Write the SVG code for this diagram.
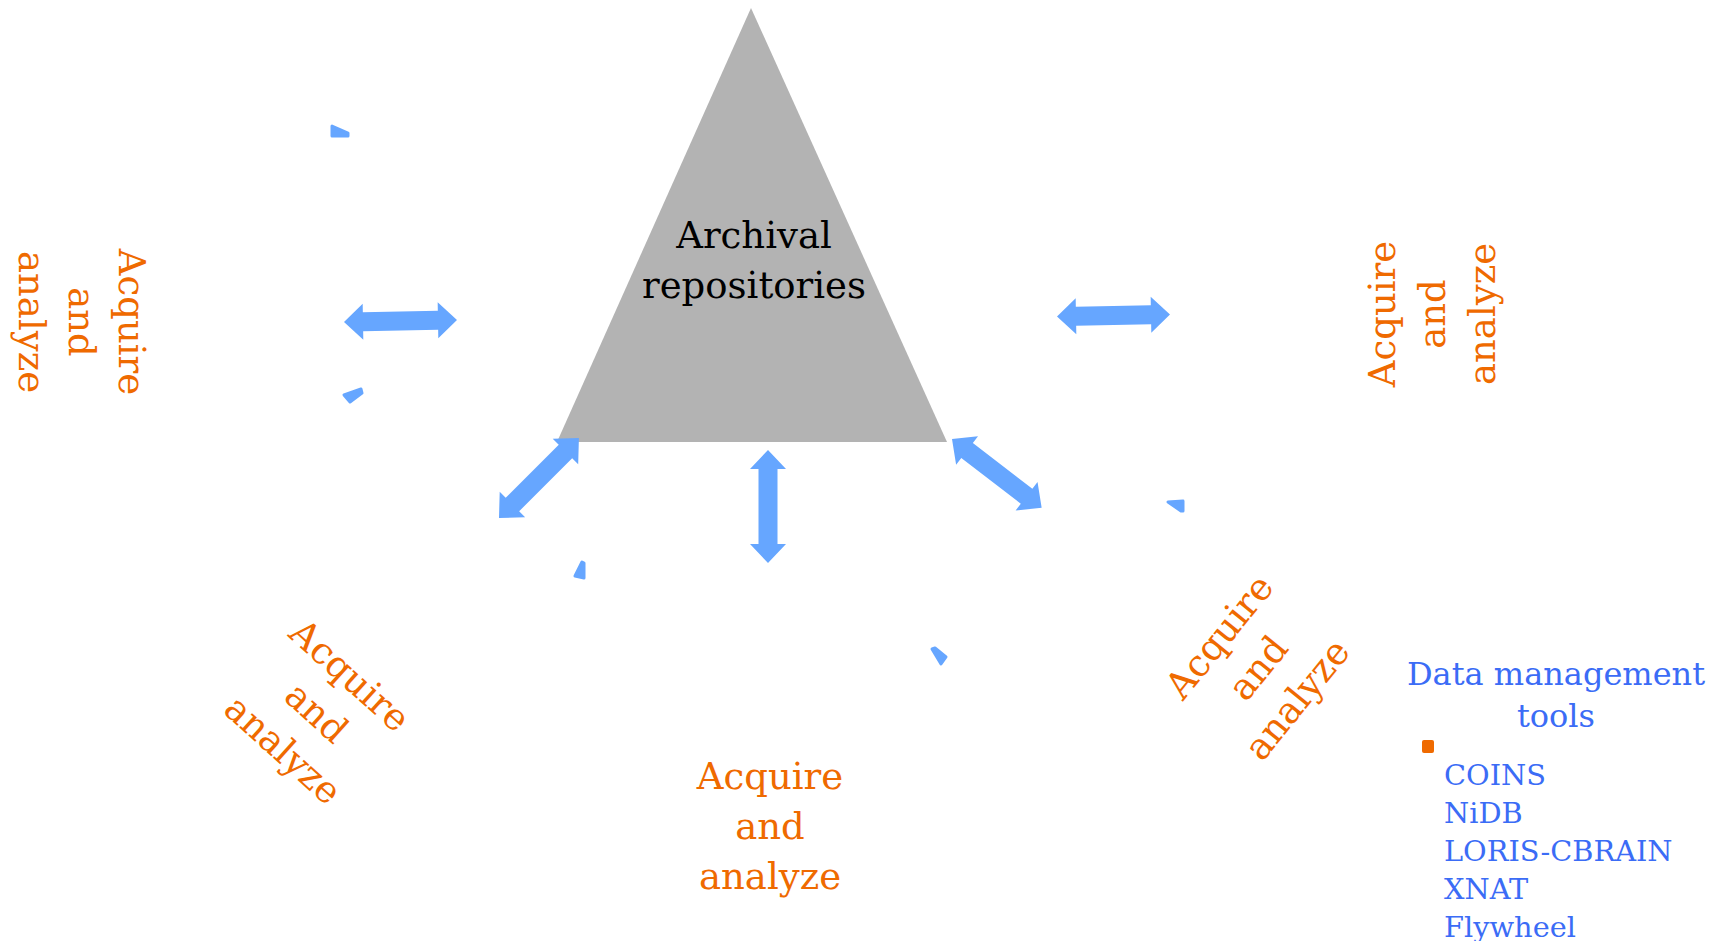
<svg xmlns="http://www.w3.org/2000/svg" xmlns:xlink="http://www.w3.org/1999/xlink" width="1720" height="941" viewBox="0 0 1720 941">
<style>
.lbl{font-family:"DejaVu Serif","Liberation Serif",serif;font-size:37px;fill:#ef6a00;text-anchor:middle}
.tri{font-family:"DejaVu Serif","Liberation Serif",serif;font-size:37px;fill:#000;text-anchor:middle}
.dm{font-family:"DejaVu Serif","Liberation Serif",serif;fill:#3b6cf6}
.arr{fill:#66a6ff}
.frag{fill:#66a6ff;stroke:#66a6ff;stroke-width:3;stroke-linejoin:round}
</style>
<defs>
<polygon id="dbl" points="0,0 19,-18 19,-9.5 94,-9.5 94,-18 113,0 94,18 94,9.5 19,9.5 19,18"/>
</defs>
<rect width="1720" height="941" fill="#fff"/>
<g id="repository">
<polygon points="751,8 947,442 557,442" fill="#b3b3b3"/>
<text class="tri" x="754" y="248">Archival</text>
<text class="tri" x="754" y="298">repositories</text>
</g>
<g id="connectors">
<use href="#dbl" class="arr" transform="translate(344,322) rotate(-1)"/>
<use href="#dbl" class="arr" transform="translate(1057,316.5) rotate(-1)"/>
<use href="#dbl" class="arr" transform="translate(768,450) rotate(90)"/>
<use href="#dbl" class="arr" transform="translate(499,518) rotate(-45)"/>
<use href="#dbl" class="arr" transform="translate(952,439) rotate(37.5)"/>
<polygon class="frag" points="332,126 348,133 348,136 332,136"/>
<polygon class="frag" points="344,395 361,389 362,393 350,402"/>
<polygon class="frag" points="575,576 582,562 584,563 584,578"/>
<polygon class="frag" points="932,649 935,648 946,657 941,664"/>
<polygon class="frag" points="1168,502 1183,501 1183,511 1181,511"/>
</g>
<g id="site-left">
<g transform="translate(69,322) rotate(90)">
<text class="lbl" x="0" y="-50">Acquire</text>
<text class="lbl" x="0" y="0">and</text>
<text class="lbl" x="0" y="50">analyze</text>
</g>
</g>
<g id="site-right">
<g transform="translate(1445,314) rotate(-90)">
<text class="lbl" x="0" y="-50">Acquire</text>
<text class="lbl" x="0" y="0">and</text>
<text class="lbl" x="0" y="50">analyze</text>
</g>
</g>
<g id="site-lower-left">
<g transform="translate(308,722) rotate(42)">
<text class="lbl" x="0" y="-50">Acquire</text>
<text class="lbl" x="0" y="0">and</text>
<text class="lbl" x="0" y="50">analyze</text>
</g>
</g>
<g id="site-lower-right">
<g transform="translate(1268,676) rotate(-51)">
<text class="lbl" x="0" y="-50">Acquire</text>
<text class="lbl" x="0" y="0">and</text>
<text class="lbl" x="0" y="50">analyze</text>
</g>
</g>
<g id="site-bottom">
<text class="lbl" x="770" y="789">Acquire</text>
<text class="lbl" x="770" y="839">and</text>
<text class="lbl" x="770" y="889">analyze</text>
</g>
<g id="data-management-tools">
<text class="dm" x="1556" y="685" font-size="32" text-anchor="middle">Data management</text>
<text class="dm" x="1556" y="727" font-size="32" text-anchor="middle">tools</text>
<rect x="1422" y="740" width="12" height="13" rx="2" fill="#ef6a00"/>
<text class="dm" font-size="28.8" x="1444" y="785">COINS</text>
<text class="dm" font-size="28.8" x="1444" y="823">NiDB</text>
<text class="dm" font-size="28.8" x="1444" y="861">LORIS-CBRAIN</text>
<text class="dm" font-size="28.8" x="1444" y="899">XNAT</text>
<text class="dm" font-size="28.8" x="1444" y="937">Flywheel</text>
</g>
</svg>
